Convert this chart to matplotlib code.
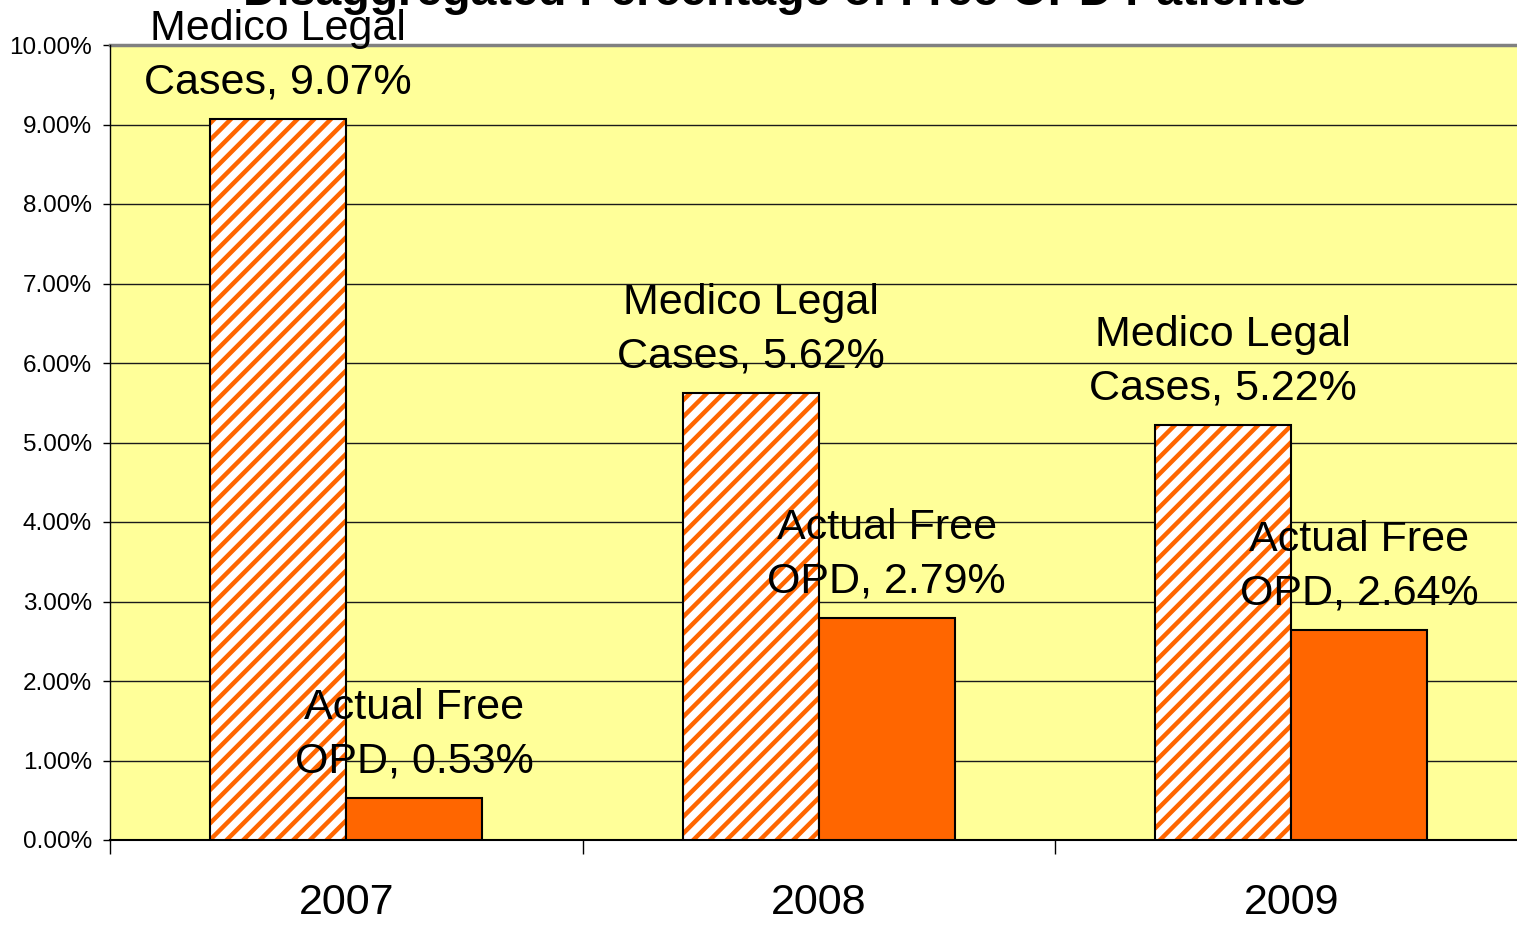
import numpy as np
import matplotlib.pyplot as plt
from matplotlib.ticker import FixedLocator, PercentFormatter

plt.rcParams['font.family'] = ['Liberation Sans', 'DejaVu Sans']
plt.rcParams['hatch.linewidth'] = 3.2

# data
years = ['2007', '2008', '2009']
medico_legal = [9.07, 5.62, 5.22]   # % of OPD patients
actual_free = [0.53, 2.79, 2.64]
series_names = ['Medico Legal\nCases', 'Actual Free\nOPD']

yellow = '#FFFF99'
orange = '#FF6600'

fig = plt.figure(figsize=(15.17, 9.25), dpi=100)
ax = fig.add_axes([110 / 1517, 1 - 840 / 925, 1417.5 / 1517, 795 / 925])
ax.set_facecolor(yellow)

x = np.arange(len(years))
w = 0.288

# hatched series: orange stripes on white, black outline drawn on top
ax.bar(x - w / 2, medico_legal, w, facecolor='white', edgecolor=orange,
       hatch='//', linewidth=0, zorder=3)
ax.bar(x - w / 2, medico_legal, w, fill=False, edgecolor='black',
       linewidth=1.5, zorder=4)
ax.bar(x + w / 2, actual_free, w, color=orange, edgecolor='black',
       linewidth=1.5, zorder=4)

# data labels
for xi, v in zip(x, medico_legal):
    ax.annotate(f'{series_names[0]}, {v:.2f}%', (xi - w / 2, v),
                xytext=(0, 12), textcoords='offset points',
                ha='center', va='bottom', fontsize=31, linespacing=1.43,
                zorder=6, annotation_clip=False)
for xi, v in zip(x, actual_free):
    ax.annotate(f'{series_names[1]}, {v:.2f}%', (xi + w / 2, v),
                xytext=(0, 12), textcoords='offset points',
                ha='center', va='bottom', fontsize=31, linespacing=1.43,
                zorder=6, annotation_clip=False)

ax.set_xlim(-0.5, 2.5)
ax.set_ylim(0, 10)
ax.set_yticks(np.arange(0, 11, 1))
ax.yaxis.set_major_formatter(PercentFormatter(decimals=2))
ax.tick_params(axis='y', labelsize=17.5, length=5, width=1, pad=8,
               direction='out')

ax.set_xticks(x)
ax.set_xticklabels(years)
ax.xaxis.set_minor_locator(FixedLocator([-0.5, 0.5, 1.5]))
ax.tick_params(axis='x', which='major', length=0, labelsize=31, pad=31)
ax.tick_params(axis='x', which='minor', length=10, width=1, direction='out')

ax.grid(axis='y', color='#1a1a1a', linewidth=1, zorder=1)
ax.set_axisbelow(True)
for side in ['top', 'right']:
    ax.spines[side].set_visible(False)
ax.axhline(10, color='#808080', linewidth=2.5, zorder=2, clip_on=False)
ax.spines['left'].set_linewidth(1)
ax.spines['bottom'].set_linewidth(1.5)

fig.text(775 / 1517, 1 - 5 / 925, 'Disaggregated Percentage of Free OPD Patients',
         ha='center', va='baseline', fontsize=33.5, fontweight='bold')

fig.savefig('out.png', dpi=100)
